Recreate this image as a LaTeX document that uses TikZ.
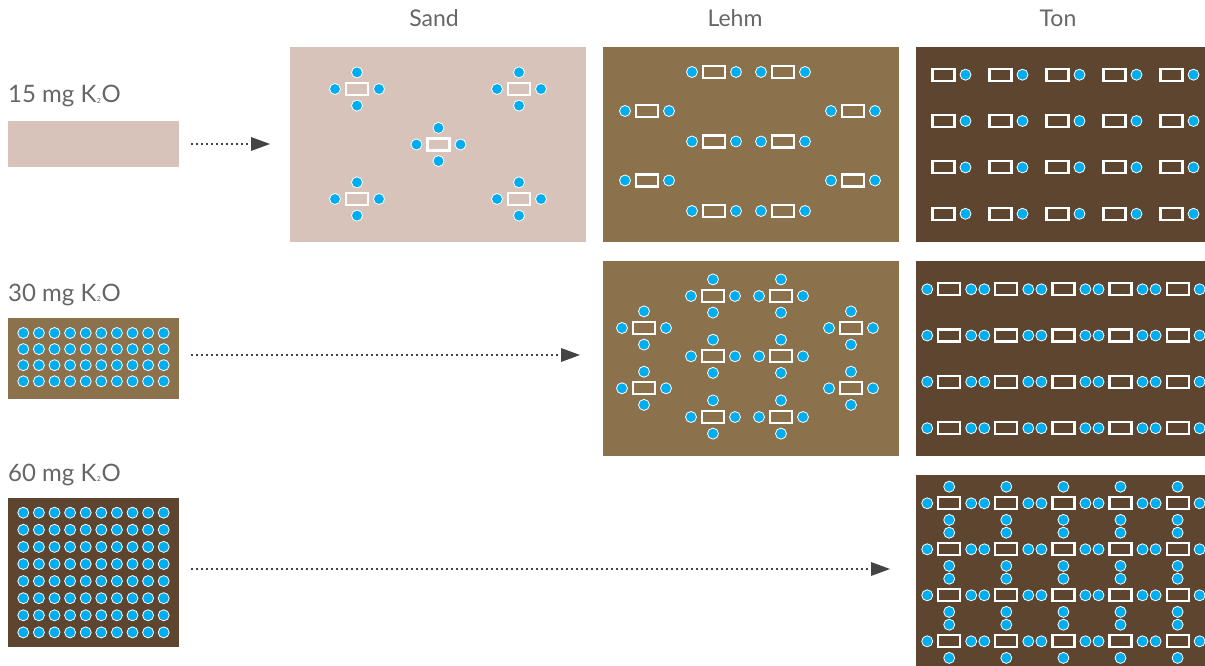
\documentclass[tikz,border=0pt]{standalone}
\usepackage{fontspec}
\setmainfont{Lato}
\usetikzlibrary{arrows.meta}
\definecolor{sandc}{HTML}{D7C3BA}
\definecolor{lehmc}{HTML}{8B724D}
\definecolor{tonc}{HTML}{5E4530}
\definecolor{kblue}{HTML}{00AEEF}
\definecolor{txtgray}{HTML}{666666}
\definecolor{arrgray}{HTML}{444444}
\newcommand\kdt[2]{\filldraw[fill=kblue,draw=white,line width=0.8pt] (#1,#2) circle[radius=5.5];}
\newcommand\krc[2]{\draw[white,line width=2.2pt] ({#1-11},{#2-6}) rectangle ({#1+11},{#2+6});}
\newcommand\kcross[2]{\krc{#1}{#2}\kdt{#1-22}{#2}\kdt{#1+22}{#2}\kdt{#1}{#2-16.6}\kdt{#1}{#2+16.6}}
\newcommand\kpair[2]{\krc{#1}{#2}\kdt{#1-22}{#2}\kdt{#1+22}{#2}}
\newcommand\kright[2]{\krc{#1}{#2}\kdt{#1+22}{#2}}
\begin{document}
\begin{tikzpicture}[x=1pt,y=-1pt,
  panel/.style={rectangle,inner sep=0pt,anchor=north west,minimum width=296pt,minimum height=195pt},
  lbl/.style={anchor=base west,inner sep=0pt,text=txtgray,font=\fontsize{24}{26}\selectfont},
  hdr/.style={anchor=base,inner sep=0pt,text=txtgray,font=\fontsize{23}{25}\selectfont},
  arr/.style={draw=arrgray,line width=1.9pt,dash pattern=on 1.9pt off 3.1pt,-{Triangle[length=19pt,width=14pt,fill=arrgray,line width=0pt]}}]
\useasboundingbox (0,0) rectangle (1205,666);
% headers
\node[hdr] (hsand) at (434,27) {Sand};
\node[hdr] (hlehm) at (735,27) {Lehm};
\node[hdr] (hton) at (1058,27) {Ton};
% labels
\newcommand\ksub{\hspace{0.5pt}\raisebox{-0.5pt}{\fontsize{7}{7}\selectfont 2}\hspace{0.5pt}}
\node[lbl] (l15) at (8,103) {15 mg K\ksub O};
\node[lbl] (l30) at (8,301) {30 mg K\ksub O};
\node[lbl] (l60) at (8,481) {60 mg K\ksub O};
% left boxes
\node[rectangle,inner sep=0pt,anchor=north west,minimum width=171pt,minimum height=46pt,fill=sandc] (b15) at (8,121) {};
\node[rectangle,inner sep=0pt,anchor=north west,minimum width=171pt,minimum height=81pt,fill=lehmc] (b30) at (8,318) {};
\node[rectangle,inner sep=0pt,anchor=north west,minimum width=171pt,minimum height=149pt,fill=tonc] (b60) at (8,498) {};
\foreach \i in {0,...,9}{\foreach \j in {0,...,3}{\kdt{23.3+15.6*\i}{333+16.1*\j}}}
\foreach \i in {0,...,9}{\foreach \j in {0,...,7}{\kdt{23.3+15.6*\i}{512.7+17.1*\j}}}
% panels
\node[panel,fill=sandc] (sand1) at (290,47) {};
\node[panel,fill=lehmc] (lehm1) at (603,47) {};
\node[panel,fill=tonc] (ton1) at (916,47) {};
\node[panel,fill=lehmc] (lehm2) at (603,261) {};
\node[panel,fill=tonc] (ton2) at (916,261) {};
\node[panel,fill=tonc] (ton3) at (916,475) {};
% sand
\kcross{357}{89}\kcross{519}{89}\kcross{438.5}{144.5}\kcross{357}{199}\kcross{519}{199}
% lehm top
\kpair{714}{72}\kpair{783}{72}\kpair{647}{111}\kpair{853}{111}
\kpair{714}{141.5}\kpair{783}{141.5}\kpair{647}{180.5}\kpair{853}{180.5}
\kpair{714}{211}\kpair{783}{211}
% ton top
\foreach \x in {943.5,1000.5,1057.5,1114.5,1171.5}{\foreach \y in {74.7,121,167.4,213.8}{\kright{\x}{\y}}}
% lehm mid
\kcross{713}{296}\kcross{781}{296}\kcross{644}{328}\kcross{851}{328}
\kcross{713}{356.3}\kcross{781}{356.3}\kcross{644}{388.3}\kcross{851}{388.3}
\kcross{713}{417}\kcross{781}{417}
% ton mid
\foreach \x in {949.2,1006.3,1063.4,1120.5,1177.6}{\foreach \y in {289.3,335.5,381.8,428.2}{\kpair{\x}{\y}}}
% ton bottom
\foreach \x in {949.2,1006.3,1063.4,1120.5,1177.6}{\foreach \y in {503.3,549.3,595.3,641.3}{\kcross{\x}{\y}}}
% arrows
\coordinate (a1s) at (191,144);
\coordinate (a1e) at (270,144);
\coordinate (a2s) at (191,355);
\coordinate (a2e) at (580,355);
\coordinate (a3s) at (191,569);
\coordinate (a3e) at (890,569);
\draw[arr] (a1s) -- (a1e);
\draw[arr] (a2s) -- (a2e);
\draw[arr] (a3s) -- (a3e);
\end{tikzpicture}
\end{document}
